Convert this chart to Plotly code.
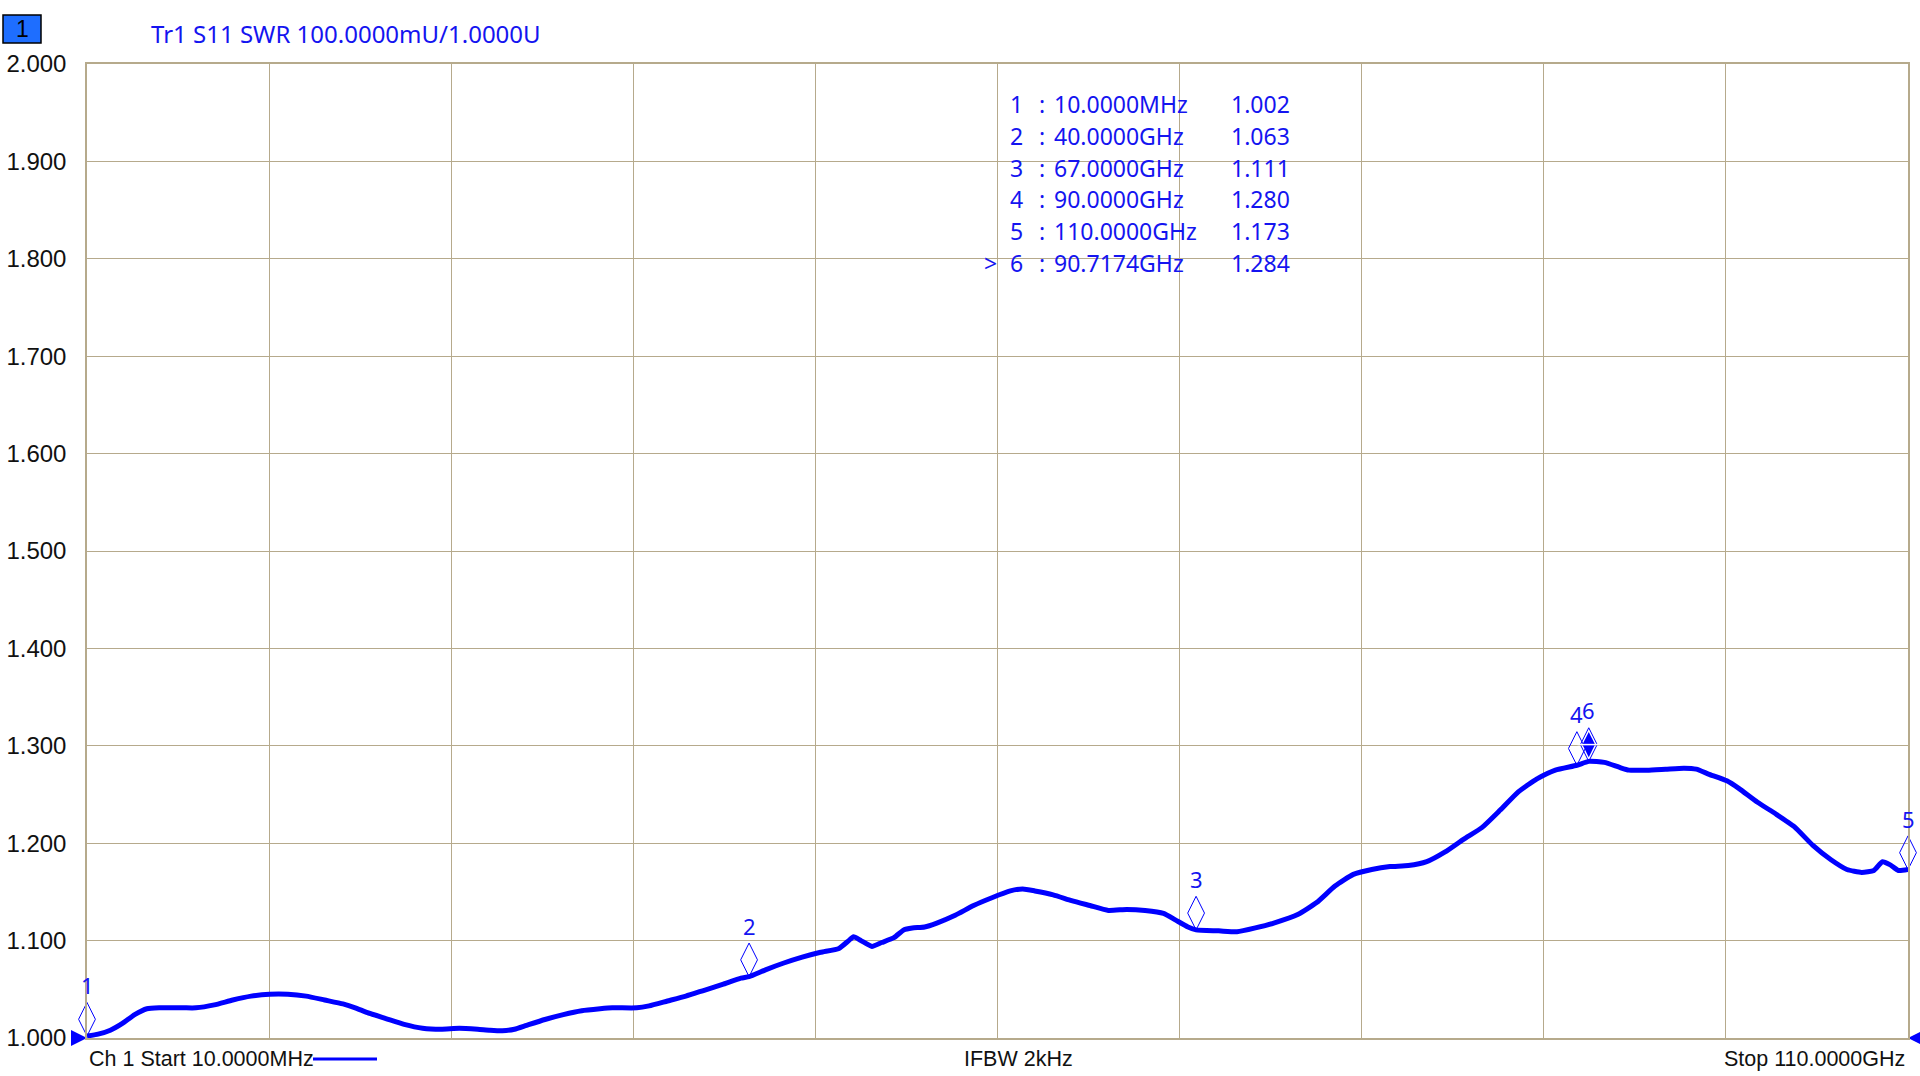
import plotly.graph_objects as go

# ---------------- data ----------------
freq_ghz = [0.01, 0.68, 1.42, 2.15, 2.89, 3.63, 4.37, 5.11, 5.85, 6.59,
            7.70, 8.81, 9.92, 11.03, 12.14, 13.25, 14.36, 15.47, 16.21, 16.95,
            18.06, 19.17, 20.28, 21.39, 22.50, 23.61, 24.35, 25.09, 25.83, 26.56,
            27.67, 28.78, 29.89, 31.00, 31.74, 33.22, 33.96, 35.07, 36.18, 37.29,
            38.40, 39.51, 40.00, 40.99, 42.10, 43.21, 44.32, 45.43, 46.02, 46.31,
            46.76, 47.42, 48.01, 48.75, 49.34, 49.86, 50.60, 51.34, 52.45, 53.56,
            54.67, 55.78, 56.52, 57.26, 58.37, 59.48, 60.59, 61.70, 62.81, 63.92,
            65.03, 65.77, 66.51, 67.00, 68.36, 69.47, 70.58, 71.69, 73.17, 74.28,
            75.39, 76.50, 77.61, 78.71, 79.82, 80.93, 82.04, 83.15, 84.26, 85.37,
            86.48, 87.59, 88.70, 90.00, 90.72, 91.66, 92.55, 93.14, 94.25, 95.36,
            96.47, 97.21, 97.95, 99.06, 99.80, 100.91, 102.02, 103.13, 104.24, 105.35,
            106.31, 107.20, 107.94, 108.46, 108.90, 109.42, 110.00]

swr = [1.002, 1.004, 1.008, 1.015, 1.024, 1.030, 1.031, 1.031, 1.031, 1.031,
       1.034, 1.039, 1.043, 1.045, 1.045, 1.043, 1.039, 1.035, 1.031, 1.026,
       1.020, 1.014, 1.010, 1.009, 1.010, 1.009, 1.008, 1.0075, 1.009, 1.013,
       1.019, 1.024, 1.028, 1.030, 1.031, 1.031, 1.033, 1.038, 1.043, 1.049,
       1.055, 1.0615, 1.063, 1.070, 1.077, 1.083, 1.088, 1.092, 1.100, 1.104,
       1.100, 1.094, 1.098, 1.103, 1.111, 1.113, 1.114, 1.118, 1.126, 1.136,
       1.144, 1.151, 1.153, 1.151, 1.147, 1.141, 1.136, 1.131, 1.132, 1.131,
       1.128, 1.121, 1.114, 1.111, 1.110, 1.109, 1.113, 1.118, 1.127, 1.139,
       1.156, 1.168, 1.173, 1.176, 1.177, 1.181, 1.191, 1.204, 1.216, 1.234,
       1.253, 1.266, 1.275, 1.280, 1.284, 1.283, 1.278, 1.275, 1.275, 1.276,
       1.277, 1.276, 1.271, 1.264, 1.256, 1.242, 1.230, 1.217, 1.198, 1.183,
       1.173, 1.170, 1.172, 1.181, 1.178, 1.172, 1.173]

marker_ids = ["1", "2", "3", "4", "5", "6"]
marker_freq_ghz = [0.01, 40.0, 67.0, 90.0, 110.0, 90.7174]
marker_freq_text = ["10.0000MHz", "40.0000GHz", "67.0000GHz", "90.0000GHz",
                    "110.0000GHz", "90.7174GHz"]
marker_swr = [1.002, 1.063, 1.111, 1.280, 1.173, 1.284]
active_marker = "6"

x_start_ghz = 0.01
x_stop_ghz = 110.0
y_min, y_max = 1.0, 2.0
y_tick_vals = [1.0, 1.1, 1.2, 1.3, 1.4, 1.5, 1.6, 1.7, 1.8, 1.9, 2.0]
y_tick_text = ["1.000", "1.100", "1.200", "1.300", "1.400", "1.500",
               "1.600", "1.700", "1.800", "1.900", "2.000"]

title_text = "Tr1 S11 SWR 100.0000mU/1.0000U"
start_text = "Ch 1 Start 10.0000MHz"
ifbw_text = "IFBW 2kHz"
stop_text = "Stop 110.0000GHz"
channel_text = "1"

# ---------------- style ----------------
W, H = 1920, 1076
PL, PR, PT, PB = 87, 1908, 64, 1038
GRID = "#b6aa8c"
BLUE = "#0000ff"
TXT_BLUE = "#1414f0"
FONT_TXT = "Noto Sans, DejaVu Sans, sans-serif"
FONT_AX = "Liberation Sans, Arial, sans-serif"


def px(x):
    return (x - PL) / (PR - PL)


def py(y):
    return (PB - y) / (PB - PT)


fig = go.Figure()

fig.add_trace(go.Scatter(
    x=freq_ghz, y=swr, mode="lines",
    line=dict(color=BLUE, width=5, shape="spline", smoothing=0.5),
    hoverinfo="skip",
))

# marker diamonds (bottom tip at the marker value)
for mid, f, v in zip(marker_ids, marker_freq_ghz, marker_swr):
    fig.add_trace(go.Scatter(
        x=[f], y=[v], mode="markers", cliponaxis=False, hoverinfo="skip",
        marker=dict(symbol="diamond-tall-open", size=24, color=BLUE,
                    angle=180, standoff=16.8, line=dict(width=1, color=BLUE)),
    ))
    if mid == active_marker:
        fig.add_trace(go.Scatter(
            x=[f], y=[v], mode="markers", cliponaxis=False, hoverinfo="skip",
            marker=dict(symbol="diamond-tall", size=18, color=BLUE,
                        angle=180, standoff=16.8, line=dict(width=0)),
        ))
        fig.add_trace(go.Scatter(
            x=[f], y=[v], mode="markers", cliponaxis=False, hoverinfo="skip",
            marker=dict(symbol="line-ew", size=16, color="white",
                        angle=180, standoff=16.8,
                        line=dict(width=1.5, color="white")),
        ))
    fig.add_annotation(x=f, y=v, xref="x", yref="y", text=mid, showarrow=False,
                       yshift=51, font=dict(family=FONT_TXT, size=22, color=TXT_BLUE))

# reference / stop arrows on the bottom line
fig.add_trace(go.Scatter(
    x=[x_start_ghz], y=[y_min], mode="markers", cliponaxis=False, hoverinfo="skip",
    marker=dict(symbol="arrow-right", size=16, color=BLUE, line=dict(width=0)),
))
fig.add_trace(go.Scatter(
    x=[x_stop_ghz], y=[y_min], mode="markers", cliponaxis=False, hoverinfo="skip",
    marker=dict(symbol="arrow-left", size=16, color=BLUE, line=dict(width=0)),
))

# ---------------- marker table ----------------
row_y = [104, 136, 168, 199, 231, 263]
for i, (mid, ftxt, v) in enumerate(zip(marker_ids, marker_freq_text, marker_swr)):
    yy = py(row_y[i])
    f = dict(family=FONT_TXT, size=23, color=TXT_BLUE)
    if mid == active_marker:
        fig.add_annotation(x=px(999), y=yy, xref="paper", yref="paper", text=">",
                           xanchor="right", yanchor="middle", showarrow=False, font=f)
    fig.add_annotation(x=px(1016), y=yy, xref="paper", yref="paper", text=mid,
                       xanchor="center", yanchor="middle", showarrow=False, font=f)
    fig.add_annotation(x=px(1042), y=yy, xref="paper", yref="paper", text=":",
                       xanchor="center", yanchor="middle", showarrow=False, font=f)
    fig.add_annotation(x=px(1052), y=yy, xref="paper", yref="paper", text=ftxt,
                       xanchor="left", yanchor="middle", showarrow=False, font=f)
    fig.add_annotation(x=px(1292), y=yy, xref="paper", yref="paper", text=f"{v:.3f}",
                       xanchor="right", yanchor="middle", showarrow=False, font=f)

# ---------------- header ----------------
fig.add_shape(type="rect", xref="paper", yref="paper",
              x0=px(3), x1=px(41), y0=py(43), y1=py(15),
              fillcolor="#1e6eff", line=dict(color="black", width=1.5))
fig.add_annotation(x=px(22), y=py(29), xref="paper", yref="paper", text=channel_text,
                   showarrow=False, xanchor="center", yanchor="middle",
                   font=dict(family=FONT_AX, size=23, color="black"))
fig.add_annotation(x=px(149), y=py(33), xref="paper", yref="paper", text=title_text,
                   showarrow=False, xanchor="left", yanchor="middle",
                   font=dict(family=FONT_TXT, size=24, color=TXT_BLUE))

# ---------------- footer ----------------
foot_font = dict(family=FONT_AX, size=21.5, color="#111111")
fig.add_annotation(x=px(87), y=py(1059), xref="paper", yref="paper", text=start_text,
                   showarrow=False, xanchor="left", yanchor="middle", font=foot_font)
fig.add_shape(type="line", xref="paper", yref="paper",
              x0=px(313), x1=px(377), y0=py(1059), y1=py(1059),
              line=dict(color=BLUE, width=3))
fig.add_annotation(x=px(1019), y=py(1059), xref="paper", yref="paper", text=ifbw_text,
                   showarrow=False, xanchor="center", yanchor="middle", font=foot_font)
fig.add_annotation(x=px(1907), y=py(1059), xref="paper", yref="paper", text=stop_text,
                   showarrow=False, xanchor="right", yanchor="middle", font=foot_font)

fig.update_layout(
    width=W, height=H,
    margin=dict(l=PL, r=W - PR, t=PT, b=H - PB, autoexpand=False),
    paper_bgcolor="white", plot_bgcolor="white",
    showlegend=False,
    xaxis=dict(range=[x_start_ghz, x_stop_ghz], tickmode="linear",
               tick0=x_start_ghz, dtick=(x_stop_ghz - x_start_ghz) / 10,
               showticklabels=False, showgrid=True, gridcolor=GRID, gridwidth=1,
               zeroline=False, showline=True, linecolor=GRID, linewidth=1.5,
               mirror=True, ticks="", automargin=False),
    yaxis=dict(range=[y_min, y_max], tickmode="array", tickvals=y_tick_vals,
               ticktext=y_tick_text, showgrid=True, gridcolor=GRID, gridwidth=1,
               zeroline=False, showline=True, linecolor=GRID, linewidth=1.5,
               mirror=True, ticks="", ticklabelstandoff=14, automargin=False,
               tickfont=dict(family=FONT_AX, size=24, color="#111111")),
)

fig.write_html("out.html", config={"displayModeBar": False},
               post_script="document.body.style.margin='0';document.body.style.overflow='hidden';")
